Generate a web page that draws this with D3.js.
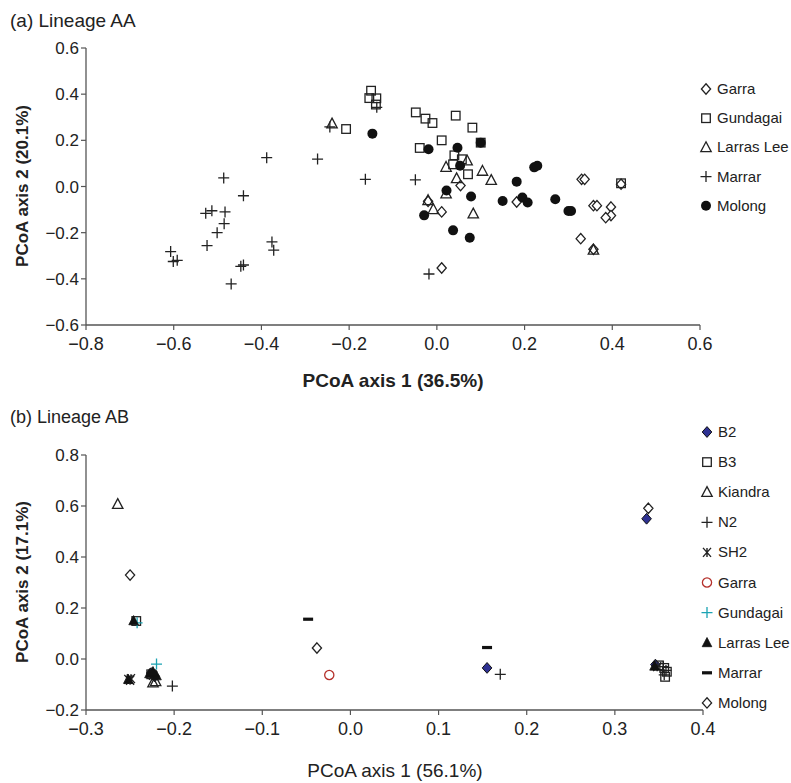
<!DOCTYPE html>
<html>
<head>
<meta charset="utf-8">
<script src="https://cdn.jsdelivr.net/npm/d3@7/dist/d3.min.js"></script>
<style>
  html, body { margin: 0; padding: 0; background: #fff; }
  svg { display: block; }
  .narrow { font-family: "Liberation Sans Narrow", "Liberation Sans", Arial, sans-serif; }
  text { font-family: "Liberation Sans", Arial, sans-serif; fill: #222; }
</style>
</head>
<body>
<svg id="chart" width="791" height="783"></svg>
<script>
// ---------- Panel (a): Lineage AA ----------
const groupsAA = ["Garra", "Gundagai", "Larras Lee", "Marrar", "Molong"];
const xTicksAA = [-0.8, -0.6, -0.4, -0.2, 0.0, 0.2, 0.4, 0.6];
const yTicksAA = [-0.6, -0.4, -0.2, 0.0, 0.2, 0.4, 0.6];

const garraAA = [
  [0.054, 0.004], [0.011, -0.110], [-0.020, -0.064], [0.182, -0.067],
  [0.330, 0.031], [0.337, 0.031], [0.357, -0.083], [0.365, -0.083],
  [0.397, -0.089], [0.397, -0.126], [0.385, -0.135], [0.328, -0.226],
  [0.357, -0.272], [0.011, -0.353], [0.420, 0.010]
];
const gundagaiAA = [
  [-0.150, 0.415], [-0.154, 0.383], [-0.138, 0.382], [-0.139, 0.355],
  [-0.207, 0.249], [-0.048, 0.321], [-0.026, 0.294], [-0.010, 0.275],
  [0.043, 0.307], [0.081, 0.255], [0.011, 0.200], [-0.039, 0.167],
  [0.100, 0.190], [0.040, 0.135], [0.037, 0.096], [0.057, 0.118],
  [0.071, 0.053], [0.420, 0.014]
];
const larrasLeeAA = [
  [-0.239, 0.272], [0.021, 0.084], [0.069, 0.112], [0.045, 0.035],
  [0.104, 0.067], [0.124, 0.027], [-0.020, -0.060], [0.021, -0.031],
  [-0.008, -0.099], [0.083, -0.118], [0.357, -0.275]
];
const marrarAA = [
  [-0.388, 0.125], [-0.272, 0.119], [-0.163, 0.031], [-0.486, 0.037],
  [-0.441, -0.040], [-0.527, -0.116], [-0.513, -0.105], [-0.483, -0.110],
  [-0.485, -0.161], [-0.501, -0.200], [-0.524, -0.256], [-0.607, -0.282],
  [-0.601, -0.325], [-0.592, -0.320], [-0.376, -0.240], [-0.372, -0.276],
  [-0.447, -0.346], [-0.441, -0.340], [-0.469, -0.422], [-0.244, 0.258],
  [-0.137, 0.343], [-0.049, 0.029], [-0.018, -0.379]
];
const molongAA = [
  [-0.147, 0.229], [-0.019, 0.161], [0.047, 0.168], [0.053, 0.090],
  [0.022, -0.017], [0.078, -0.043], [-0.029, -0.125], [0.037, -0.190],
  [0.075, -0.222], [0.150, -0.063], [0.182, 0.021], [0.195, -0.048],
  [0.207, -0.069], [0.222, 0.083], [0.229, 0.090], [0.270, -0.055],
  [0.300, -0.106], [0.306, -0.106], [0.100, 0.190]
];

// ---------- Panel (b): Lineage AB ----------
const groupsAB = ["B2", "B3", "Kiandra", "N2", "SH2", "Garra", "Gundagai", "Larras Lee", "Marrar", "Molong"];
const xTicksAB = [-0.3, -0.2, -0.1, 0.0, 0.1, 0.2, 0.3, 0.4];
const yTicksAB = [-0.2, 0.0, 0.2, 0.4, 0.6, 0.8];

const b2AB = [[0.336, 0.550], [0.155, -0.035], [-0.226, -0.055], [-0.222, -0.068], [0.346, -0.022]];
const b3AB = [[-0.243, 0.149], [0.350, -0.025], [0.356, -0.035], [0.359, -0.050], [0.357, -0.070], [-0.226, -0.060]];
const kiandraAB = [[-0.264, 0.607], [-0.224, -0.093], [-0.221, -0.088]];
const n2AB = [[-0.202, -0.106], [0.170, -0.060], [0.355, -0.030], [0.358, -0.045], [0.356, -0.062]];
const sh2AB = [[-0.252, -0.080], [-0.250, -0.083], [-0.249, -0.077], [-0.224, -0.064], [0.348, -0.030]];
const garraAB = [[-0.024, -0.063]];
const gundagaiAB = [[-0.242, 0.142], [-0.220, -0.020]];
const larrasLeeAB = [[-0.246, 0.150], [-0.228, -0.058], [-0.220, -0.066], [-0.224, -0.050], [-0.252, -0.080], [0.345, -0.028]];
const marrarAB = [[-0.048, 0.156], [0.155, 0.045]];
const molongAB = [[0.338, 0.591], [-0.250, 0.329], [-0.038, 0.043]];

const svg = d3.select("#chart");
const fmt = d3.format(".1f");
const axisColor = "#555";

// ---------- marker shapes ----------
function drawMarker(g, kind, color) {
  const c = color || "#222";
  switch (kind) {
    case "diamond":
      g.append("path").attr("d", "M0,-5.2L4.6,0L0,5.2L-4.6,0Z")
        .attr("fill", "#fff").attr("stroke", c).attr("stroke-width", 1.3);
      break;
    case "diamondFilled":
      g.append("path").attr("d", "M0,-5.4L4.8,0L0,5.4L-4.8,0Z")
        .attr("fill", "#2e3192").attr("stroke", "#111").attr("stroke-width", 1);
      break;
    case "square":
      g.append("rect").attr("x", -4.3).attr("y", -4.3).attr("width", 8.6).attr("height", 8.6)
        .attr("fill", "none").attr("stroke", c).attr("stroke-width", 1.3);
      break;
    case "triangle":
      g.append("path").attr("d", "M0,-5.6L5.2,4.2L-5.2,4.2Z")
        .attr("fill", "none").attr("stroke", c).attr("stroke-width", 1.3);
      break;
    case "triangleFilled":
      g.append("path").attr("d", "M0,-5.2L4.8,4L-4.8,4Z")
        .attr("fill", "#111").attr("stroke", "#111").attr("stroke-width", 0.8);
      break;
    case "cross":
      g.append("path").attr("d", "M-5.5,0H5.5M0,-5.5V5.5")
        .attr("stroke", c).attr("stroke-width", 1.3).attr("fill", "none");
      break;
    case "star":
      g.append("path").attr("d", "M-4,-4.5L4,4.5M4,-4.5L-4,4.5M0,-4.5V4.5")
        .attr("stroke", c).attr("stroke-width", 1.4).attr("fill", "none");
      break;
    case "dot":
      g.append("circle").attr("r", 5).attr("fill", "#111");
      break;
    case "circle":
      g.append("circle").attr("r", 4.6).attr("fill", "none").attr("stroke", c).attr("stroke-width", 1.3);
      break;
    case "dash":
      g.append("rect").attr("x", -5).attr("y", -1.6).attr("width", 10).attr("height", 3.2).attr("fill", "#111");
      break;
  }
}

// ---------- axes ----------
function drawAxes(x, y, xTicks, yTicks, narrowX) {
  const [x0, x1] = x.range();
  const [y0, y1] = y.range(); // y0 bottom, y1 top
  const ax = svg.append("g");
  ax.append("line").attr("x1", x0).attr("x2", x0).attr("y1", y1).attr("y2", y0)
    .attr("stroke", axisColor).attr("stroke-width", 1.3);
  ax.append("line").attr("x1", x0).attr("x2", x1).attr("y1", y0).attr("y2", y0)
    .attr("stroke", axisColor).attr("stroke-width", 1.3);

  yTicks.forEach(t => {
    ax.append("line").attr("x1", x0 - 5).attr("x2", x0).attr("y1", y(t)).attr("y2", y(t))
      .attr("stroke", axisColor).attr("stroke-width", 1.2);
    ax.append("text").attr("x", x0 - 7).attr("y", y(t) + 6)
      .attr("text-anchor", "end").attr("font-size", 17).text(fmt(t));
  });
  xTicks.forEach(t => {
    ax.append("line").attr("x1", x(t)).attr("x2", x(t)).attr("y1", y0).attr("y2", y0 + 5)
      .attr("stroke", axisColor).attr("stroke-width", 1.2);
    ax.append("text").attr("x", x(t)).attr("y", y0 + 25)
      .attr("class", narrowX ? "narrow" : null)
      .attr("text-anchor", "middle").attr("font-size", 18).text(fmt(t));
  });
}

function drawSeries(x, y, pts, kind, color) {
  svg.append("g").selectAll("g").data(pts).join("g")
    .attr("transform", d => `translate(${x(d[0])},${y(d[1])})`)
    .each(function () { drawMarker(d3.select(this), kind, color); });
}

function drawLegend(items, x0, yStart, step, fontSize) {
  items.forEach((it, i) => {
    const g = svg.append("g").attr("transform", `translate(${x0},${yStart + i * step})`);
    drawMarker(g, it.kind, it.color);
    svg.append("text").attr("x", x0 + 11).attr("y", yStart + i * step + 5)
      .attr("font-size", fontSize).text(it.name);
  });
}

// ---------- panel (a) ----------
const xA = d3.scaleLinear().domain([-0.8, 0.6]).range([86, 700]);
const yA = d3.scaleLinear().domain([-0.6, 0.6]).range([325, 48]);
drawAxes(xA, yA, xTicksAA, yTicksAA, true);

const seriesAA = [
  { name: groupsAA[0], pts: garraAA, kind: "diamond" },
  { name: groupsAA[1], pts: gundagaiAA, kind: "square" },
  { name: groupsAA[2], pts: larrasLeeAA, kind: "triangle" },
  { name: groupsAA[3], pts: marrarAA, kind: "cross" },
  { name: groupsAA[4], pts: molongAA, kind: "dot" }
];
seriesAA.forEach(s => drawSeries(xA, yA, s.pts, s.kind, s.color));
drawLegend(seriesAA, 706, 89, 29.2, 15);

svg.append("text").attr("class", "narrow").attr("x", 10).attr("y", 27)
  .attr("font-size", 19).text("(a) Lineage AA");
svg.append("text").attr("class", "narrow").attr("x", 393).attr("y", 387)
  .attr("text-anchor", "middle").attr("font-size", 19).attr("font-weight", "bold")
  .text("PCoA axis 1 (36.5%)");
svg.append("text").attr("transform", "translate(28,186) rotate(-90)")
  .attr("text-anchor", "middle").attr("font-size", 17).attr("font-weight", "bold")
  .text("PCoA axis 2 (20.1%)");

// ---------- panel (b) ----------
const xB = d3.scaleLinear().domain([-0.3, 0.4]).range([86, 703]);
const yB = d3.scaleLinear().domain([-0.2, 0.8]).range([710, 455]);
drawAxes(xB, yB, xTicksAB, yTicksAB, true);

const seriesAB = [
  { name: groupsAB[0], pts: b2AB, kind: "diamondFilled" },
  { name: groupsAB[1], pts: b3AB, kind: "square" },
  { name: groupsAB[2], pts: kiandraAB, kind: "triangle" },
  { name: groupsAB[3], pts: n2AB, kind: "cross" },
  { name: groupsAB[4], pts: sh2AB, kind: "star" },
  { name: groupsAB[5], pts: garraAB, kind: "circle", color: "#b5312c" },
  { name: groupsAB[6], pts: gundagaiAB, kind: "cross", color: "#1ba3b3" },
  { name: groupsAB[7], pts: larrasLeeAB, kind: "triangleFilled" },
  { name: groupsAB[8], pts: marrarAB, kind: "dash" },
  { name: groupsAB[9], pts: molongAB, kind: "diamond" }
];
seriesAB.forEach(s => drawSeries(xB, yB, s.pts, s.kind, s.color));
drawLegend(seriesAB, 707, 432, 30.1, 15);

svg.append("text").attr("x", 10).attr("y", 423)
  .attr("font-size", 18).text("(b) Lineage AB");
svg.append("text").attr("class", "narrow").attr("x", 395).attr("y", 777)
  .attr("text-anchor", "middle").attr("font-size", 19)
  .text("PCoA axis 1 (56.1%)");
svg.append("text").attr("transform", "translate(28,582) rotate(-90)")
  .attr("text-anchor", "middle").attr("font-size", 17).attr("font-weight", "bold")
  .text("PCoA axis 2 (17.1%)");
</script>
</body>
</html>
